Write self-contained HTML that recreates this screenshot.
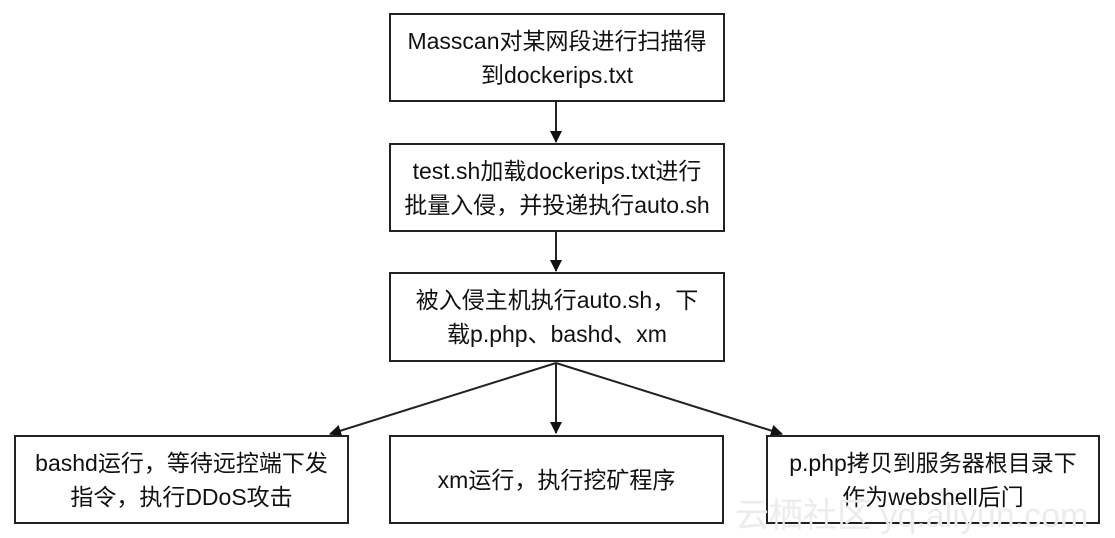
<!DOCTYPE html>
<html><head><meta charset="utf-8"><style>
body{margin:0;width:1115px;height:538px;background:#fff;position:relative;overflow:hidden;font-family:"Liberation Sans","Noto Sans CJK SC",sans-serif;}
.b{position:absolute;border:2px solid #222;box-sizing:border-box;display:flex;align-items:center;justify-content:center;text-align:center;font-size:23px;line-height:34px;color:#111;}
.wm{position:absolute;left:735px;top:488px;font-size:34px;color:#ececec;font-family:"Liberation Sans","Noto Sans CJK SC",sans-serif;}
</style></head><body>
<svg width="1115" height="538" style="position:absolute;left:0;top:0">
<defs><marker id="a" markerWidth="12" markerHeight="12" refX="11" refY="6" orient="auto" markerUnits="userSpaceOnUse"><path d="M0,0 L12,6 L0,12 z" fill="#111"/></marker></defs>
<g stroke="#222" stroke-width="2" fill="none">
<line x1="556" y1="101" x2="556" y2="142" marker-end="url(#a)"/>
<line x1="556" y1="231" x2="556" y2="271" marker-end="url(#a)"/>
<line x1="556" y1="363" x2="556" y2="433" marker-end="url(#a)"/>
<line x1="556" y1="363" x2="330" y2="434" marker-end="url(#a)"/>
<line x1="556" y1="363" x2="782" y2="434" marker-end="url(#a)"/>
</g></svg>
<div class="b" style="left:389px;top:13px;width:336px;height:89px">Masscan对某网段进行扫描得<br>到dockerips.txt</div>
<div class="b" style="left:389px;top:143px;width:336px;height:89px">test.sh加载dockerips.txt进行<br>批量入侵，并投递执行auto.sh</div>
<div class="b" style="left:389px;top:272px;width:336px;height:90px">被入侵主机执行auto.sh，下<br>载p.php、bashd、xm</div>
<div class="b" style="left:14px;top:435px;width:335px;height:89px">bashd运行，等待远控端下发<br>指令，执行DDoS攻击</div>
<div class="b" style="left:389px;top:435px;width:335px;height:89px">xm运行，执行挖矿程序</div>
<div class="b" style="left:766px;top:435px;width:334px;height:89px">p.php拷贝到服务器根目录下<br>作为webshell后门</div>
<div class="wm">云栖社区 yq.aliyun.com</div>
</body></html>
